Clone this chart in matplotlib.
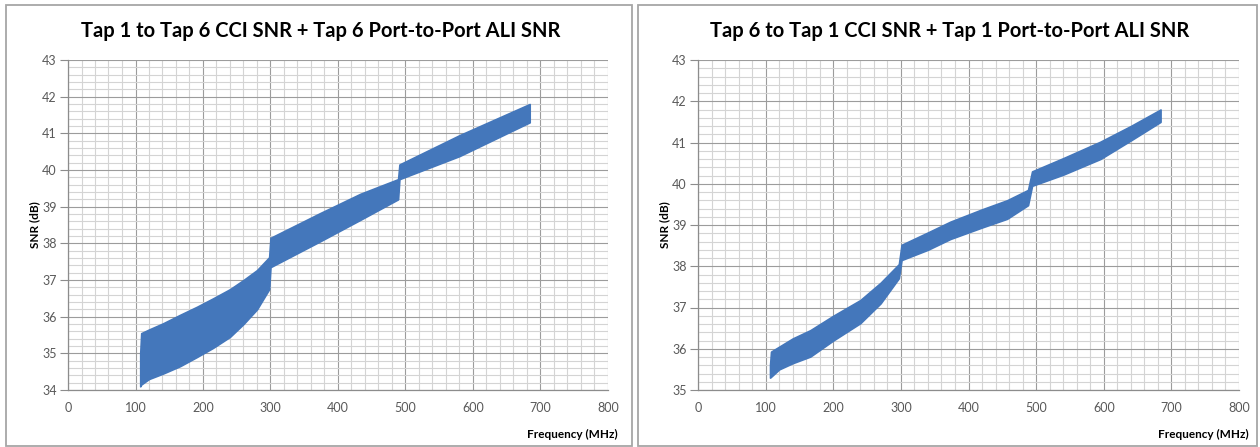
import matplotlib
matplotlib.use("Agg")
import matplotlib.pyplot as plt
from matplotlib.patches import Rectangle
from matplotlib.ticker import MultipleLocator

plt.rcParams['font.family'] = ['Lato', 'DejaVu Sans']

# Left chart: Tap 1 -> Tap 6, envelope (upper / lower) of the dense SNR trace
freq_a = [107, 108.5, 120, 141, 166, 191, 215, 240, 260, 280, 298, 300,
          373, 433, 489, 491, 580, 684]
upper_a = [35.0, 35.55, 35.65, 35.82, 36.05, 36.27, 36.5, 36.75, 37.0, 37.27, 37.62, 38.15,
           38.82, 39.35, 39.75, 40.15, 40.95, 41.8]
lower_a = [34.1, 34.15, 34.3, 34.45, 34.65, 34.9, 35.15, 35.45, 35.8, 36.2, 36.75, 37.35,
           38.05, 38.64, 39.2, 39.75, 40.38, 41.3]

# Right chart: Tap 6 -> Tap 1
freq_b = [106.5, 108, 120, 140, 166, 200, 240, 270, 297, 301, 340, 373,
          420, 457, 488, 494, 540, 595, 640, 684]
upper_b = [35.6, 35.93, 36.05, 36.25, 36.45, 36.8, 37.18, 37.6, 38.05, 38.52, 38.82, 39.08,
           39.38, 39.6, 39.85, 40.3, 40.62, 41.02, 41.4, 41.8]
lower_b = [35.3, 35.32, 35.5, 35.65, 35.81, 36.2, 36.62, 37.1, 37.71, 38.15, 38.4, 38.66,
           38.94, 39.15, 39.48, 39.95, 40.22, 40.6, 41.05, 41.5]

titles = ["Tap 1 to Tap 6 CCI SNR + Tap 6 Port-to-Port ALI SNR",
          "Tap 6 to Tap 1 CCI SNR + Tap 1 Port-to-Port ALI SNR"]
ylims = [(34, 43), (35, 43)]

blue = "#4477bb"
W, H = 1260, 447

fig = plt.figure(figsize=(W / 100, H / 100), dpi=100)

# panel frames (pixels: left, right)
frames = [(6, 632), (638, 1257)]
axes_px = [68, 698]
axes_w = [540, 541]

data = [(freq_a, upper_a, lower_a), (freq_b, upper_b, lower_b)]

for i in range(2):
    x0, x1 = frames[i]
    fig.patches.append(Rectangle((x0 / W, 1 / H), (x1 - x0) / W, (H - 6) / H,
                                 transform=fig.transFigure, fill=False,
                                 edgecolor="#a6a6a6", linewidth=1.3))

    ax = fig.add_axes([axes_px[i] / W, 57 / H, axes_w[i] / W, 330 / H])
    f, up, lo = data[i]
    ax.fill_between(f, lo, up, color=blue, edgecolor=blue, linewidth=1.2, zorder=3)

    ax.set_xlim(0, 800)
    ax.set_ylim(*ylims[i])
    ax.xaxis.set_major_locator(MultipleLocator(100))
    ax.xaxis.set_minor_locator(MultipleLocator(20))
    ax.yaxis.set_major_locator(MultipleLocator(1))
    ax.yaxis.set_minor_locator(MultipleLocator(0.2))
    ax.grid(which="major", color="#9c9c9c", linewidth=0.8, zorder=1)
    ax.grid(which="minor", color="#d4d4d4", linewidth=0.8, zorder=0)
    ax.set_axisbelow(True)

    for s in ["top", "right"]:
        ax.spines[s].set_visible(False)
    for s in ["left", "bottom"]:
        ax.spines[s].set_color("#8c8c8c")
        ax.spines[s].set_linewidth(0.9)

    ax.tick_params(axis="y", which="major", length=6, color="#8c8c8c",
                   labelsize=9, labelcolor="#595959", pad=2)
    ax.tick_params(axis="x", which="major", length=0,
                   labelsize=9, labelcolor="#595959", pad=9)
    ax.tick_params(which="minor", length=0)

    cx = (x0 + x1) / 2 + 2
    fig.text(cx / W, 1 - 31 / H, titles[i], ha="center", va="center",
             fontsize=14.5, fontweight="bold", color="#000000")
    fig.text((axes_px[i] - 33) / W, 1 - 225 / H, "SNR (dB)", rotation=90,
             ha="center", va="center", fontsize=8.5, fontweight="bold")
    fig.text((axes_px[i] + axes_w[i] + 10) / W, 1 - 434 / H, "Frequency (MHz)",
             ha="right", va="center", fontsize=8.5, fontweight="bold")

fig.savefig("out.png", dpi=100)
